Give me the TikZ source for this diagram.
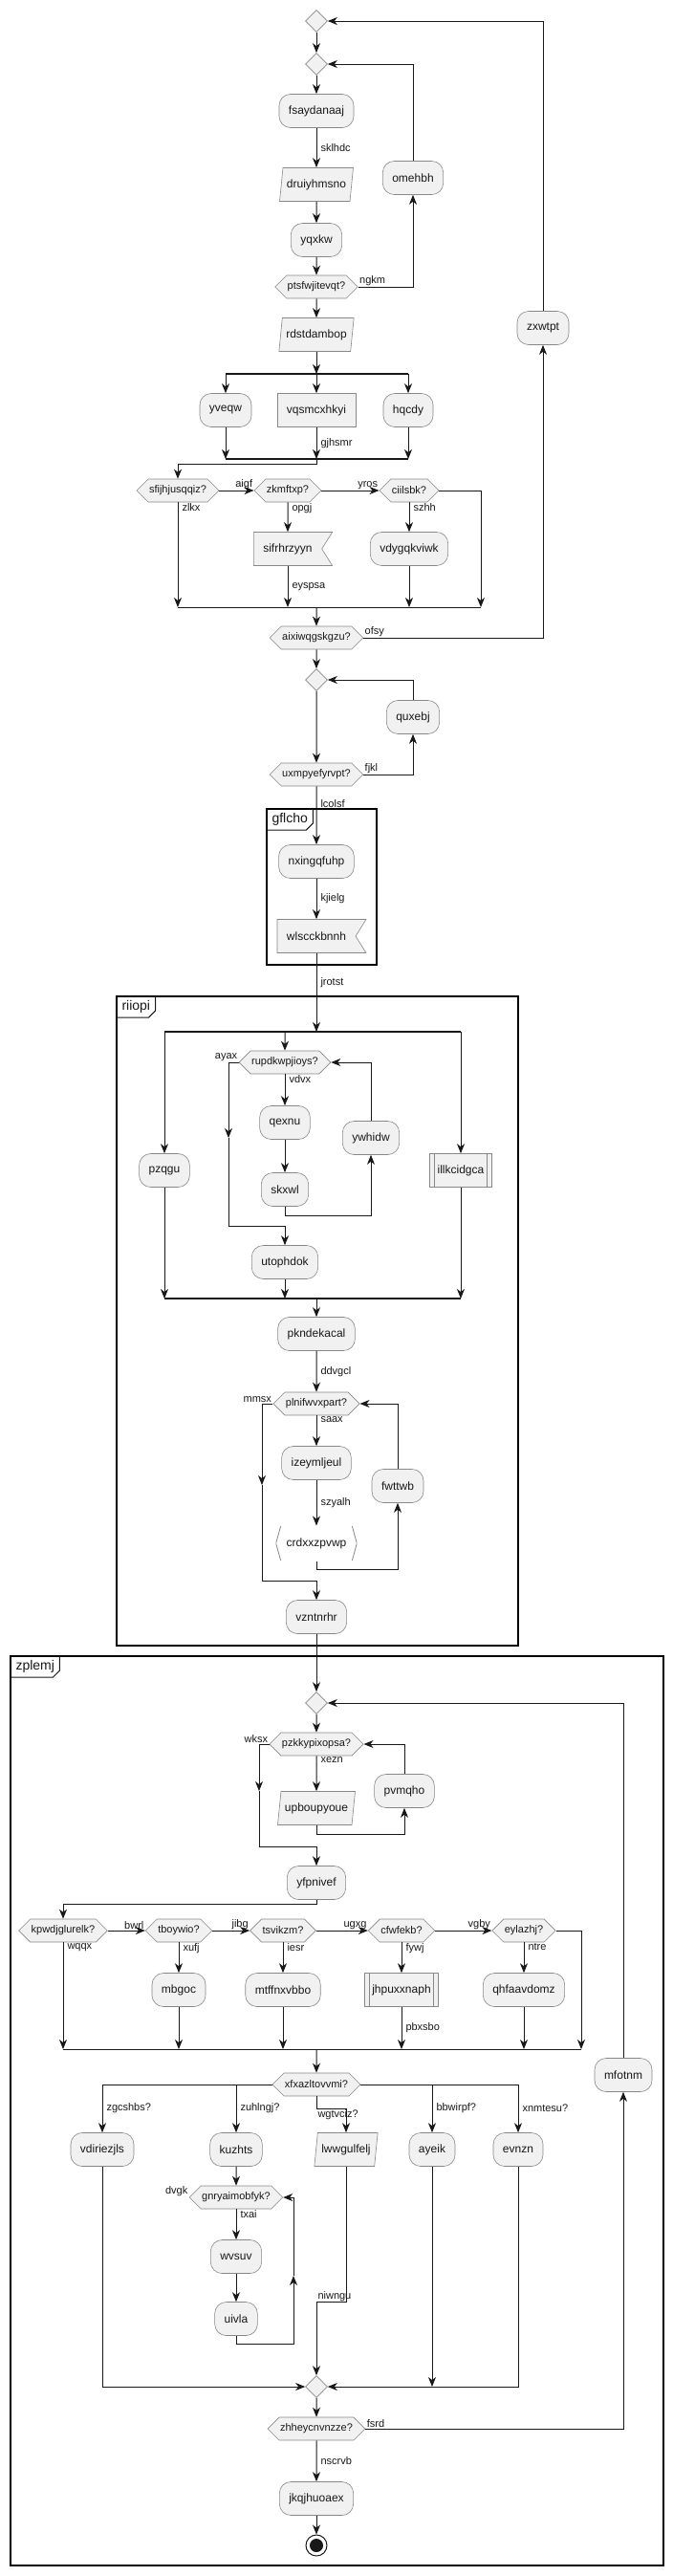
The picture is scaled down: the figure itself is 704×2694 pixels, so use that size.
\documentclass[tikz,border=0pt]{standalone}
\usepackage{fontspec}
\setmainfont{Liberation Sans}
\usetikzlibrary{arrows.meta,shapes.geometric,shapes.symbols,positioning}
\definecolor{actfill}{HTML}{F1F1F1}
\definecolor{actline}{HTML}{888888}
\definecolor{wire}{HTML}{181818}
\begin{document}
\begin{tikzpicture}[x=1pt, y=1pt, line width=1pt, color=wire,
  >={Stealth[length=10pt,width=8pt,inset=3pt]},
  act/.style={draw=actline, fill=actfill, line width=0.6pt, rounded corners=12pt, minimum height=35pt, inner xsep=10pt, font=\fontsize{12}{14}\selectfont},
  plainbox/.style={act, sharp corners},
  io/.style={act, sharp corners, trapezium, trapezium stretches=true, trapezium left angle=79, trapezium right angle=101, inner xsep=4pt},
  dec/.style={draw=actline, fill=actfill, line width=0.6pt, signal, signal to=east and west, signal pointer angle=90, minimum height=24pt, inner xsep=1pt, font=\fontsize{11}{13}\selectfont},
  flagbox/.style={act, sharp corners, signal, signal to=nowhere, signal from=east, signal pointer angle=116},
  subproc/.style={plainbox, inner xsep=8pt, path picture={\draw[actline, line width=0.6pt] ([xshift=5pt]path picture bounding box.north west) -- ([xshift=5pt]path picture bounding box.south west) ([xshift=-5pt]path picture bounding box.north east) -- ([xshift=-5pt]path picture bounding box.south east);}},
  brk/.style={fill=white, minimum height=36pt, inner xsep=11pt, font=\fontsize{12}{14}\selectfont, path picture={\draw[actline, line width=0.8pt] ([xshift=5pt]path picture bounding box.north west) -- (path picture bounding box.west) -- ([xshift=5pt]path picture bounding box.south west) ([xshift=-5pt]path picture bounding box.north east) -- (path picture bounding box.east) -- ([xshift=-5pt]path picture bounding box.south east);}},
  knot/.style={diamond, draw=actline, fill=actfill, line width=0.6pt, minimum size=23pt, inner sep=0pt},
  stopnode/.style={circle, draw=wire, fill=white, line width=1pt, minimum size=22pt, inner sep=0pt, path picture={\fill[wire] (path picture bounding box.center) circle (7pt);}},
  lbl/.style={font=\fontsize{11}{13}\selectfont, inner sep=1pt},
  elbl/.style={lbl, anchor=west, xshift=3pt},
  blbl/.style={lbl, anchor=north west, xshift=3pt},
  forkbar/.style={line width=2.5pt},
  grpframe/.style={line width=1.5pt, draw=black},
  grptitle/.style={anchor=north west, font=\fontsize{14}{16}\selectfont, inner xsep=5pt, inner ysep=0pt, minimum height=21pt}]
\fill[white, use as bounding box] (0,0) rectangle (704,-2694);

\draw[grpframe] (279,-846) rectangle (394,-1009);
\node[grptitle] (gflcho) at (279,-846) {gflcho};
\draw (gflcho.north east) -- ([yshift=7pt]gflcho.south east) -- ([xshift=-7pt]gflcho.south east) -- (gflcho.south west);
\draw[grpframe] (122,-1042) rectangle (542,-1721);
\node[grptitle] (riiopi) at (122,-1042) {riiopi};
\draw (riiopi.north east) -- ([yshift=7pt]riiopi.south east) -- ([xshift=-7pt]riiopi.south east) -- (riiopi.south west);
\draw[grpframe] (11,-1732) rectangle (694,-2683);
\node[grptitle] (zplemj) at (11,-1732) {zplemj};
\draw (zplemj.north east) -- ([yshift=7pt]zplemj.south east) -- ([xshift=-7pt]zplemj.south east) -- (zplemj.south west);

\node[knot] (d1) at (331,-22) {};
\node[knot] (d2) at (331,-67) {};
\node[act] (fsay) at (331,-116) {fsaydanaaj};
\node[io] (drui) at (331,-193) {druiyhmsno};
\node[act] (yqxk) at (331,-251) {yqxkw};
\node[dec] (ptsf) at (331,-300) {ptsfwjitevqt?};
\node[act] (omeh) at (432,-186) {omehbh};
\node[io] (rdst) at (331,-350) {rdstdambop};
\node[act] (zxwt) at (568,-343) {zxwtpt};
\node[act] (yveq) at (236,-429) {yveqw};
\node[plainbox] (vqsm) at (331,-429) {vqsmcxhkyi};
\node[act] (hqcd) at (427,-429) {hqcdy};
\node[dec] (sfij) at (186,-513) {sfijhjusqqiz?};
\node[dec] (zkmf) at (301,-513) {zkmftxp?};
\node[dec] (ciil) at (428,-513) {ciilsbk?};
\node[flagbox] (sifr) at (301,-574) {sifrhrzyyn};
\node[act] (vdyg) at (428,-574) {vdygqkviwk};
\node[dec] (aixi) at (331,-667) {aixiwqgskgzu?};
\node[knot] (d3) at (331,-711) {};
\node[act] (quxe) at (432,-750) {quxebj};
\node[dec] (uxmp) at (331,-810) {uxmpyefyrvpt?};
\node[act] (nxin) at (331,-901) {nxingqfuhp};
\node[flagbox] (wlsc) at (331,-979) {wlscckbnnh};
\node[act] (pzqg) at (172,-1224) {pzqgu};
\node[dec] (rupd) at (298,-1111) {rupdkwpjioys?};
\node[act] (qexn) at (298,-1174) {qexnu};
\node[act] (skxw) at (298,-1244) {skxwl};
\node[act] (ywhi) at (388,-1190) {ywhidw};
\node[act] (utop) at (298,-1320) {utophdok};
\node[subproc] (illk) at (482,-1224) {illkcidgca};
\node[act] (pknd) at (331,-1395) {pkndekacal};
\node[dec] (plni) at (331,-1468) {plnifwvxpart?};
\node[act] (izey) at (331,-1530) {izeymljeul};
\node[brk] (crdx) at (331,-1614) {crdxxzpvwp};
\node[act] (fwtt) at (416,-1554) {fwttwb};
\node[act] (vznt) at (331,-1691) {vzntnrhr};
\node[knot] (d4) at (331,-1781) {};
\node[dec] (pzkk) at (331,-1824) {pzkkypixopsa?};
\node[io] (upbo) at (331,-1891) {upboupyoue};
\node[act] (pvmq) at (423,-1873) {pvmqho};
\node[act] (yfpn) at (331,-1969) {yfpnivef};
\node[dec] (kpwd) at (66,-2019) {kpwdjglurelk?};
\node[dec] (tboy) at (187,-2019) {tboywio?};
\node[dec] (tsvi) at (296,-2019) {tsvikzm?};
\node[dec] (cfwf) at (420,-2019) {cfwfekb?};
\node[dec] (eyla) at (548,-2019) {eylazhj?};
\node[act] (mbgo) at (187,-2081) {mbgoc};
\node[act] (mtff) at (296,-2081) {mtffnxvbbo};
\node[subproc] (jhpu) at (420,-2081) {jhpuxxnaph};
\node[act] (qhfa) at (548,-2081) {qhfaavdomz};
\node[dec] (xfxa) at (331,-2180) {xfxazltovvmi?};
\node[act] (mfot) at (652,-2170) {mfotnm};
\node[act] (vdir) at (107,-2248) {vdiriezjls};
\node[act] (kuzh) at (247,-2248) {kuzhts};
\node[io] (lwwg) at (362,-2248) {lwwgulfelj};
\node[act] (ayei) at (452,-2248) {ayeik};
\node[act] (evnz) at (542,-2248) {evnzn};
\node[dec] (gnry) at (247,-2298) {gnryaimobfyk?};
\node[act] (wvsu) at (247,-2360) {wvsuv};
\node[act] (uivl) at (247,-2425) {uivla};
\node[knot] (d5) at (331,-2496) {};
\node[dec] (zhhe) at (331,-2540) {zhheycnvnzze?};
\node[act] (jkqj) at (331,-2613) {jkqjhuoaex};
\node[stopnode] (stop) at (331,-2662) {};

\draw[->] (d1) -- (d2);
\draw[->] (d2) -- (fsay);
\draw[->] (fsay) -- node[elbl] {sklhdc} (drui);
\draw[->] (drui) -- (yqxk);
\draw[->] (yqxk) -- (ptsf);
\draw[->] (ptsf.east) node[lbl, anchor=south west] {ngkm} -| (omeh.south);
\draw[->] (omeh.north) |- (d2.east);
\draw[->] (ptsf) -- (rdst);
\coordinate (fork1) at (331,-391);
\draw[forkbar] (yveq |- fork1) -- (hqcd |- fork1);
\draw[->] (rdst) -- (fork1);
\draw[->] (yveq |- fork1) -- (yveq);
\draw[->] (vqsm |- fork1) -- (vqsm);
\draw[->] (hqcd |- fork1) -- (hqcd);
\coordinate (join1) at (331,-480);
\draw[forkbar] (yveq |- join1) -- (hqcd |- join1);
\draw[->] (yveq) -- (yveq |- join1);
\draw[->] (vqsm) -- node[elbl] {gjhsmr} (join1);
\draw[->] (hqcd) -- (hqcd |- join1);
\draw[->] (join1) -- ++(0,-5) -| (sfij.north);
\draw[->] (sfij.east) -- (zkmf.west) node[lbl, anchor=south east] {aigf};
\draw[->] (zkmf.east) -- (ciil.west) node[lbl, anchor=south east] {yros};
\draw[->] (zkmf.south) node[blbl] {opgj} -- (sifr);
\draw[->] (ciil.south) node[blbl] {szhh} -- (vdyg);
\coordinate (m1r) at (503,-635);
\draw (sfij.south |- m1r) -- (m1r);
\draw[->] (sfij.south) node[blbl] {zlkx} -- (sfij.south |- m1r);
\draw[->] (sifr) -- node[elbl] {eyspsa} (sifr |- m1r);
\draw[->] (vdyg) -- (vdyg |- m1r);
\draw[->] (ciil.east) -| (m1r);
\draw[->] (aixi |- m1r) -- (aixi);
\draw[->] (aixi.east) node[lbl, anchor=south west] {ofsy} -| (zxwt.south);
\draw[->] (zxwt.north) |- (d1.east);
\draw[->] (aixi) -- (d3);
\draw[->] (d3) -- (uxmp);
\draw[->] (uxmp.east) node[lbl, anchor=south west] {fjkl} -| (quxe.south);
\draw[->] (quxe.north) |- (d3.east);
\draw[->] (uxmp) -- node[elbl, pos=0.3] {lcolsf} (nxin);
\draw[->] (nxin) -- node[elbl] {kjielg} (wlsc);
\coordinate (fork2) at (331,-1079);
\draw[->] (wlsc) -- node[elbl, pos=0.37] {jrotst} (fork2);
\draw[forkbar] (pzqg |- fork2) -- (illk |- fork2);
\draw[->] (pzqg |- fork2) -- (pzqg);
\draw[->] (rupd |- fork2) -- (rupd);
\draw[->] (illk |- fork2) -- (illk);
\draw[->] (rupd.south) node[blbl] {vdvx} -- (qexn);
\draw[->] (qexn) -- (skxw);
\draw[->] (skxw.south) -- ++(0,-10) -| (ywhi.south);
\draw[->] (ywhi.north) |- (rupd.east);
\coordinate (ayaxmid) at (239,-1190);
\draw[->] (rupd.west) node[lbl, anchor=south east] {ayax} -| (ayaxmid);
\draw[->] (ayaxmid) |- ([yshift=20pt]utop.north) -- (utop.north);
\coordinate (join2) at (331,-1358);
\draw[forkbar] (pzqg |- join2) -- (illk |- join2);
\draw[->] (pzqg) -- (pzqg |- join2);
\draw[->] (utop) -- (utop |- join2);
\draw[->] (illk) -- (illk |- join2);
\draw[->] (join2) -- (pknd);
\draw[->] (pknd) -- node[elbl] {ddvgcl} (plni);
\draw[->] (plni.south) node[blbl] {saax} -- (izey);
\draw[->] (izey) -- node[elbl] {szyalh} (crdx);
\draw[->] (crdx.south) -- ++(0,-9) -| (fwtt.south);
\draw[->] (fwtt.north) |- (plni.east);
\coordinate (mmsxmid) at (274,-1553);
\draw[->] (plni.west) node[lbl, anchor=south east] {mmsx} -| (mmsxmid);
\draw[->] (mmsxmid) |- ([yshift=20pt]vznt.north) -- (vznt.north);
\draw[->] (vznt) -- (d4);
\draw[->] (d4) -- (pzkk);
\draw[->] (pzkk.south) node[blbl] {xezn} -- (upbo);
\draw[->] (upbo.south) -- ++(0,-10) -| (pvmq.south);
\draw[->] (pvmq.north) |- (pzkk.east);
\coordinate (wksxmid) at (271,-1873);
\draw[->] (pzkk.west) node[lbl, anchor=south east] {wksx} -| (wksxmid);
\draw[->] (wksxmid) |- ([yshift=20pt]yfpn.north) -- (yfpn.north);
\draw[->] (yfpn.south) -- ++(0,-5) -| (kpwd.north);
\draw[->] (kpwd.east) -- (tboy.west) node[lbl, anchor=south east] {bwrl};
\draw[->] (tboy.east) -- (tsvi.west) node[lbl, anchor=south east] {jibg};
\draw[->] (tsvi.east) -- (cfwf.west) node[lbl, anchor=south east] {ugxg};
\draw[->] (cfwf.east) -- (eyla.west) node[lbl, anchor=south east] {vgby};
\draw[->] (tboy.south) node[blbl] {xufj} -- (mbgo);
\draw[->] (tsvi.south) node[blbl] {iesr} -- (mtff);
\draw[->] (cfwf.south) node[blbl] {fywj} -- (jhpu);
\draw[->] (eyla.south) node[blbl] {ntre} -- (qhfa);
\coordinate (m2r) at (608,-2143);
\draw (kpwd.south |- m2r) -- (m2r);
\draw[->] (kpwd.south) node[blbl] {wqqx} -- (kpwd.south |- m2r);
\draw[->] (mbgo) -- (mbgo |- m2r);
\draw[->] (mtff) -- (mtff |- m2r);
\draw[->] (jhpu) -- node[elbl] {pbxsbo} (jhpu |- m2r);
\draw[->] (qhfa) -- (qhfa |- m2r);
\draw[->] (eyla.east) -| (m2r);
\draw[->] (xfxa |- m2r) -- (xfxa);
\draw[->] (xfxa.west) -| node[elbl, pos=0.75] {zgcshbs?} (vdir.north);
\draw[->] (kuzh |- xfxa.west) -- node[elbl] {zuhlngj?} (kuzh);
\draw[->] (xfxa.east) -| node[elbl, pos=0.75] {xnmtesu?} (evnz.north);
\draw[->] (ayei |- xfxa.east) -- node[elbl] {bbwirpf?} (ayei);
\draw[->] (xfxa.south) -- ++(0,-13) node[lbl, anchor=north west] {wgtvciz?} -| (lwwg.north);
\draw[->] (kuzh) -- (gnry);
\node[lbl, anchor=south east] (dvgk) at (gnry.west) {dvgk};
\draw[->] (gnry.south) node[blbl] {txai} -- (wvsu);
\draw[->] (wvsu) -- (uivl);
\coordinate (uivlmid) at (307,-2380);
\draw[->] (uivl.south) -- ++(0,-9) -| (uivlmid);
\draw[->] (uivlmid) |- (gnry.east);
\draw[->] (vdir.south) |- (d5.west);
\draw[->] (lwwg.south) -- ++(0,-142) -| node[lbl, anchor=south west, pos=0.5] {niwngu} (d5.north);
\draw[->] (ayei) -- (ayei |- d5.east);
\draw[->] (evnz.south) |- (d5.east);
\draw[->] (d5) -- (zhhe);
\draw[->] (zhhe.east) node[lbl, anchor=south west] {fsrd} -| (mfot.south);
\draw[->] (mfot.north) |- (d4.east);
\draw[->] (zhhe) -- node[elbl] {nscrvb} (jkqj);
\draw[->] (jkqj) -- (stop);
\end{tikzpicture}
\end{document}
